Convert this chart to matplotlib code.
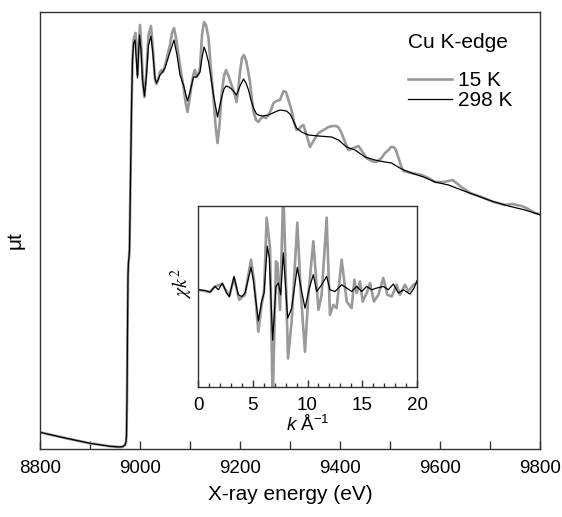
"""Cu K-edge XAS: raw absorption (main) and chi*k^2 (inset) at 15 K and 298 K."""

import matplotlib
matplotlib.use("Agg")
import matplotlib.pyplot as plt  # noqa: E402
from matplotlib.ticker import MultipleLocator  # noqa: E402

plt.rcParams["font.family"] = ["Liberation Sans", "DejaVu Sans"]
plt.rcParams["mathtext.fontset"] = "custom"
plt.rcParams["mathtext.rm"] = "Liberation Sans"
plt.rcParams["mathtext.it"] = "Liberation Sans:italic"

GRIS = "#999999"
EJE = "#333333"

# --- main panel: mu*t vs energy (arbitrary units) ---------------------------
# pre-edge + edge, same for both temperatures
energia_borde = [8800, 8850, 8900, 8940, 8960, 8966, 8970, 8972, 8973, 8974,
                 8975, 8976, 8977, 8978, 8979, 8981, 8983, 8985]
mu_borde = [0.167, 0.11, 0.057, 0.027, 0.02, 0.025, 0.04, 0.07, 0.14, 0.49,
            1.19, 1.74, 1.87, 1.91, 1.99, 2.69, 3.39, 3.89]

energia_298 = [8987, 8990, 8992, 8995, 8997, 8999, 9002, 9005, 9009, 9013,
               9017, 9022, 9026, 9030, 9033, 9036, 9040, 9045, 9050, 9055,
               9060, 9068, 9074, 9080, 9087, 9095, 9100, 9107, 9113, 9120,
               9124, 9128, 9132, 9137, 9142, 9147, 9155, 9160, 9163, 9168,
               9172, 9178, 9183, 9193, 9200, 9207, 9212, 9217, 9222, 9227,
               9233, 9237, 9245, 9257, 9270, 9280, 9293, 9300, 9306, 9313,
               9323, 9337, 9357, 9383, 9397, 9413, 9430, 9450, 9470, 9490,
               9503, 9523, 9543, 9567, 9590, 9617, 9643, 9670, 9703, 9737,
               9770, 9795, 9800]
mu_298 = [4.05, 4.09, 3.94, 3.71, 3.94, 4.14, 3.99, 3.69, 3.53, 3.74,
          4.04, 4.13, 3.94, 3.71, 3.66, 3.69, 3.74, 3.77, 3.81, 3.89,
          3.97, 4.09, 3.94, 3.74, 3.64, 3.48, 3.57, 3.72, 3.72, 3.77,
          3.91, 4.02, 3.97, 3.87, 3.71, 3.54, 3.32, 3.44, 3.51, 3.60,
          3.63, 3.62, 3.60, 3.54, 3.63, 3.70, 3.66, 3.59, 3.49, 3.41,
          3.35, 3.34, 3.33, 3.34, 3.37, 3.39, 3.38, 3.35, 3.29, 3.21,
          3.17, 3.14, 3.13, 3.12, 3.09, 3.02, 2.99, 2.92, 2.89, 2.87,
          2.86, 2.80, 2.76, 2.72, 2.67, 2.64, 2.59, 2.54, 2.48, 2.43,
          2.39, 2.35, 2.34]

energia_15 = [8987, 8991, 8993, 8995, 8997, 9000, 9003, 9006, 9009, 9013,
              9017, 9022, 9026, 9030, 9033, 9036, 9040, 9043, 9046, 9050,
              9055, 9060, 9064, 9068, 9072, 9077, 9082, 9087, 9091, 9095,
              9099, 9103, 9107, 9110, 9113, 9117, 9120, 9124, 9128, 9132,
              9137, 9142, 9147, 9151, 9155, 9159, 9163, 9168, 9172, 9177,
              9183, 9188, 9193, 9196, 9200, 9204, 9208, 9213, 9220, 9224,
              9227, 9232, 9237, 9242, 9247, 9252, 9257, 9262, 9267, 9273,
              9280, 9287, 9292, 9297, 9303, 9308, 9313, 9318, 9323, 9327,
              9333, 9340, 9348, 9357, 9367, 9377, 9385, 9393, 9398, 9403,
              9410, 9417, 9427, 9437, 9445, 9453, 9463, 9473, 9483, 9490,
              9497, 9502, 9507, 9512, 9517, 9522, 9527, 9543, 9563, 9577,
              9590, 9607, 9617, 9625, 9633, 9640, 9660, 9683, 9707, 9730,
              9745, 9753, 9763, 9773, 9790, 9800]
mu_15 = [4.09, 4.16, 3.99, 3.74, 3.99, 4.24, 3.99, 3.64, 3.52, 3.79,
         4.14, 4.23, 3.99, 3.69, 3.65, 3.69, 3.77, 3.79, 3.77, 3.83,
         3.94, 4.04, 4.16, 4.21, 4.11, 3.94, 3.77, 3.62, 3.47, 3.37,
         3.49, 3.64, 3.75, 3.79, 3.72, 3.75, 3.81, 4.14, 4.27, 4.24,
         4.11, 3.79, 3.51, 3.24, 3.06, 3.24, 3.54, 3.73, 3.79, 3.73,
         3.64, 3.57, 3.47, 3.57, 3.77, 3.91, 3.94, 3.87, 3.67, 3.49,
         3.37, 3.29, 3.27, 3.31, 3.32, 3.31, 3.34, 3.39, 3.46, 3.48,
         3.49, 3.58, 3.57, 3.49, 3.39, 3.27, 3.19, 3.20, 3.23, 3.24,
         3.14, 3.02, 3.09, 3.16, 3.19, 3.22, 3.23, 3.23, 3.21, 3.16,
         3.07, 2.99, 3.01, 3.03, 2.97, 2.91, 2.88, 2.87, 2.91, 2.96,
         2.99, 3.02, 3.02, 2.99, 2.91, 2.83, 2.78, 2.76, 2.74, 2.71,
         2.67, 2.67, 2.68, 2.69, 2.66, 2.63, 2.56, 2.52, 2.47, 2.44,
         2.45, 2.44, 2.43, 2.41, 2.36, 2.35]

# --- inset: chi(k)*k^2 (arbitrary units) ------------------------------------
k_298 = [0, 0.64, 1.1, 1.55, 1.86, 2.22, 2.62, 2.86, 3.29, 3.68,
         3.99, 4.29, 4.84, 5.05, 5.51, 5.81, 6.03, 6.33, 6.51, 6.82,
         7.12, 7.34, 7.55, 7.79, 8.19, 8.55, 9.07, 9.47, 9.77, 10.17,
         10.53, 10.84, 11.29, 11.75, 12.05, 12.51, 13.12, 13.58, 14.03, 14.49,
         14.95, 15.40, 15.86, 16.32, 16.93, 17.38, 17.84, 18.30, 18.75, 19.36,
         19.73, 20.0]
chi_298 = [0, -0.7, -2.3, 3.3, 0, 6.7, -3.3, -6.7, 13.3, -5,
           -6.7, -3.3, 22.3, 10, -31, -11.7, -3.3, 43.3, 31.7, -50,
           3.3, 6.7, -5, 36.7, -28.3, -18.3, 22.3, -1.7, -18.3, 1.7,
           15, -1.7, 5, 13.3, 0, -1.7, 5, 1.7, -1.7, 3.3,
           -1.7, 3.3, 0, 1.7, 3.3, 0, 5.7, -3.3, 0, -4.3,
           1.7, 9]

k_15 = [0, 1.1, 1.55, 2.22, 2.86, 3.29, 3.77, 4.29, 4.84, 5.11,
        5.51, 5.81, 6.03, 6.27, 6.58, 6.82, 7.12, 7.25, 7.49, 7.79,
        7.94, 8.22, 8.55, 9.07, 9.38, 9.77, 10.08, 10.53, 11.0, 11.29,
        11.75, 12.05, 12.36, 12.66, 13.12, 13.58, 14.03, 14.28, 14.49, 14.79,
        15.04, 15.40, 15.71, 16.07, 16.47, 16.93, 17.29, 17.69, 18.14, 18.45,
        18.90, 19.21, 19.67, 20.0]
chi_15 = [0, -2.3, 3.3, 5.7, -6.7, 11.7, -10, -5, 30, 10,
          -41.7, -15, -1.7, 71.7, 41.7, -115, 28.3, 26.7, -20, 100,
          45, -68.3, -31.7, 66.7, -1.7, -61.7, -5, 48.3, -20, -5,
          71.7, -25, -15, -18.3, 30, -11.7, -18.3, 10, -3.3, 8.3,
          -11.7, -3.3, 6.7, -11.7, -5, 11.7, -5, -6.7, 5, -5,
          5, -1.7, 5, 6.7]


def estilo_ejes(ax, pad):
    for lado in ax.spines.values():
        lado.set_color(EJE)
        lado.set_linewidth(1.0)
    ax.tick_params(axis="y", left=False, labelleft=False)
    ax.tick_params(axis="x", which="both", direction="in", color=EJE,
                   width=1.0, labelsize=13.5, pad=pad)


def main():
    fig = plt.figure(figsize=(5.62, 5.17), dpi=100)

    # main panel
    ax = fig.add_axes([40 / 562, 1 - 449 / 517, 500 / 562, 437 / 517])
    e_15 = energia_borde + energia_15
    e_298 = energia_borde + energia_298
    ax.plot(e_15, mu_borde + mu_15, color=GRIS, lw=1.9, label="15 K")
    ax.plot(e_298, mu_borde + mu_298, color="black", lw=0.9, label="298 K")
    ax.set_xlim(8800, 9800)
    ax.set_ylim(0, 4.37)
    ax.xaxis.set_major_locator(MultipleLocator(200))
    ax.xaxis.set_minor_locator(MultipleLocator(100))
    estilo_ejes(ax, pad=8)
    ax.tick_params(axis="x", which="both", length=6)
    ax.set_xlabel("X-ray energy (eV)", fontsize=15, labelpad=6)
    ax.set_ylabel("\u03bct", fontsize=15)
    ax.yaxis.set_label_coords(-0.03, 0.478)

    fig.text(408 / 562, 1 - 43 / 517, "Cu K-edge", fontsize=15,
             ha="left", va="center")
    ax.legend(loc="upper left", bbox_to_anchor=(408 / 562, 1 - 71 / 517),
              bbox_transform=fig.transFigure, frameon=False, fontsize=15,
              borderpad=0, borderaxespad=0, handlelength=2.1,
              handletextpad=0.3, labelspacing=0.05)

    # inset
    ins = fig.add_axes([198 / 562, 1 - 387 / 517, 219 / 562, 181 / 517])
    ins.plot(k_15, chi_15, color=GRIS, lw=1.9)
    ins.plot(k_298, chi_298, color="black", lw=0.9)
    ins.set_xlim(0, 20)
    ins.set_ylim(-96.7, 83.3)
    ins.xaxis.set_major_locator(MultipleLocator(5))
    ins.xaxis.set_minor_locator(MultipleLocator(1))
    estilo_ejes(ins, pad=7)
    ins.tick_params(axis="x", which="major", length=5)
    ins.tick_params(axis="x", which="minor", length=3)
    ins.set_xlabel("$k$ \u00c5$^{-1}$", fontsize=13.5, labelpad=1)
    ins.set_ylabel(r"$\chi k^2$", fontsize=14, math_fontfamily="stix")
    ins.yaxis.set_label_coords(-0.015, 0.57)

    fig.savefig("out.png", dpi=100)
    plt.close(fig)


if __name__ == "__main__":
    main()
